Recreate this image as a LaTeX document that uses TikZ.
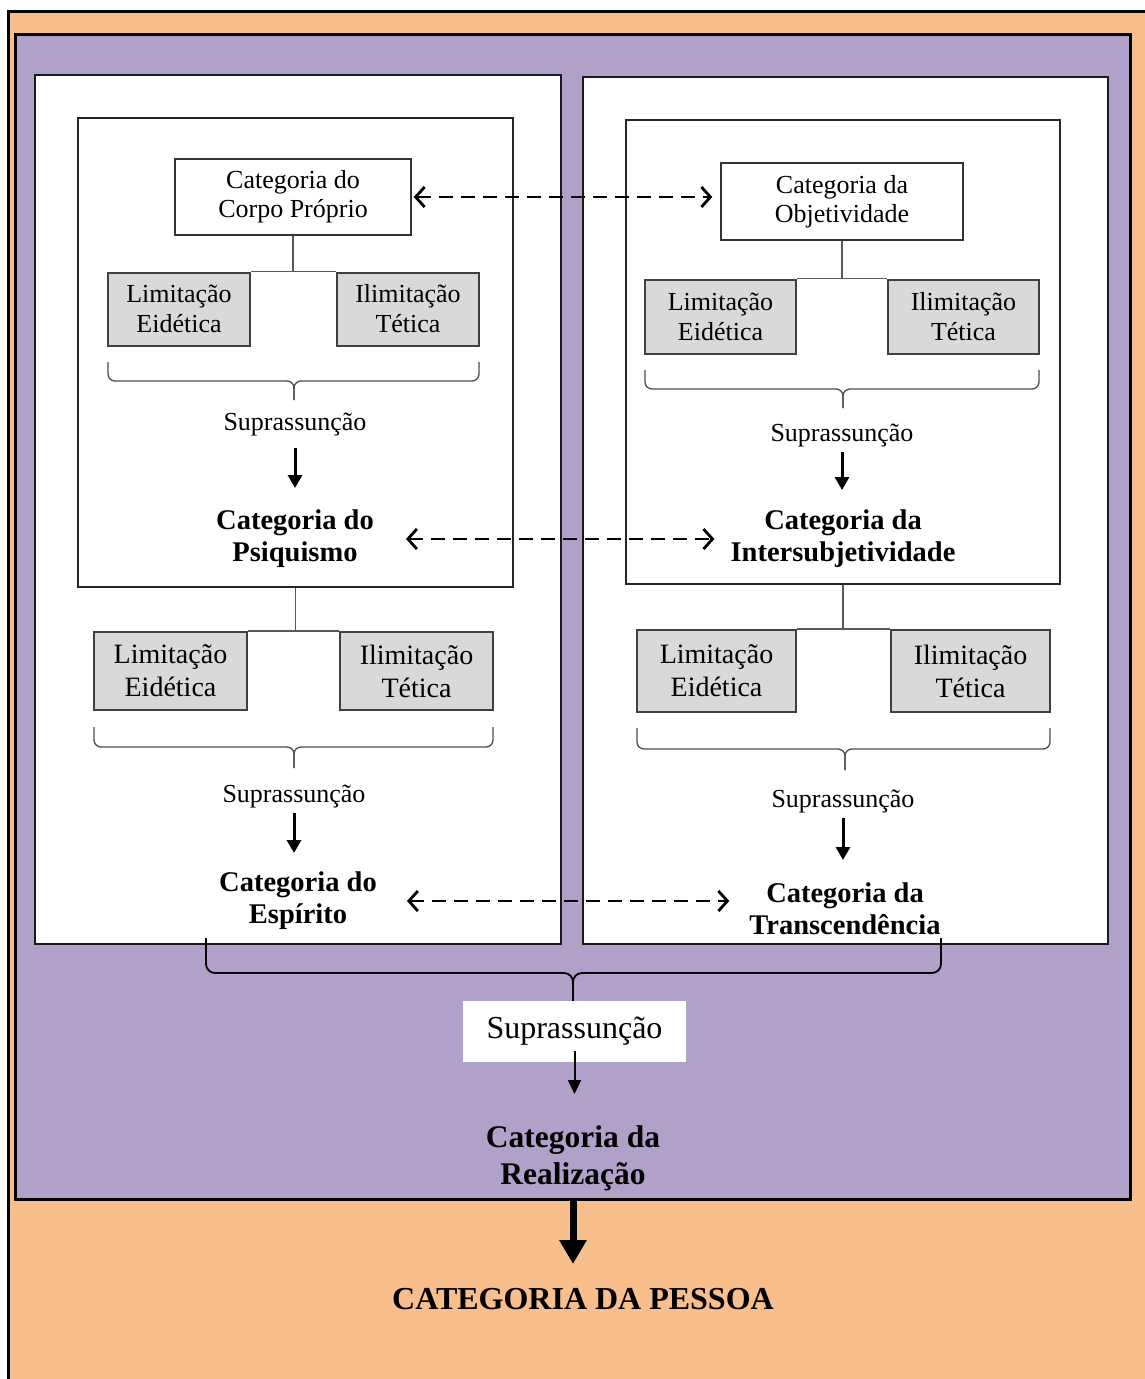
\documentclass[tikz,border=0pt]{standalone}
\usepackage{fontspec}
\setmainfont{Liberation Serif}
\usetikzlibrary{arrows.meta,positioning}
\definecolor{pessoa}{HTML}{F8BF8D}
\definecolor{realiz}{HTML}{B1A1C8}
\definecolor{limite}{HTML}{D9D9D9}
\tikzset{frame/.style={draw=black, line width=3pt}}
\tikzset{panel/.style={draw=black!90, line width=2pt, fill=white}}
\tikzset{inner box/.style={rectangle, draw=black!85, line width=1.5pt, fill=white}}
\tikzset{cat box/.style={rectangle, draw=black!80, line width=1.4pt, fill=white, align=center,
    font=\fontsize{26}{29}\selectfont}}
\tikzset{lim box/.style={rectangle, draw=black!75, line width=2pt, fill=limite, align=center, inner sep=0pt}}
\tikzset{cat node/.style={align=center, inner sep=0pt, font=\bfseries\fontsize{28.5}{32}\selectfont}}
\tikzset{sup node/.style={inner sep=0pt, font=\fontsize{26}{29}\selectfont}}
\tikzset{tree edge/.style={draw=black!65, line width=1.3pt}}
\tikzset{brace edge/.style={draw=black!70, line width=1.3pt, rounded corners=7pt}}
\tikzset{sup edge/.style={draw, line width=3pt, -{Triangle[length=13pt,width=14pt]}}}
\tikzset{link edge/.style={draw, line width=2.8pt, dash pattern=on 14pt off 8pt,
    {Straight Barb[length=9pt,width=20pt]}-{Straight Barb[length=9pt,width=20pt]}}}
% #1 left x, #2 right x, #3 tip x, #4 end y, #5 bar y, #6 tip y
\newcommand{\chave}[7][]{%
  \draw[brace edge,#1] (#2,#5) |- (#4,#6) -- (#4,#7);
  \draw[brace edge,#1] (#3,#5) |- (#4,#6) -- (#4,#7);}

\begin{document}
\begin{tikzpicture}
  [x=1pt, y=-1pt]
  \useasboundingbox (0,0) rectangle (1145,1379);
  \fill[white] (0,0) rectangle (1145,1379);
  \draw[frame, fill=pessoa] (8,11) rectangle (1165,1395);
  \draw[frame, fill=realiz] (15,34) rectangle (1130,1199);
  \draw[panel] (35,75) rectangle (561,944);
  \draw[panel] (583,77) rectangle (1108,944);

  \begin{scope}
    \node [inner box, minimum width=435pt, minimum height=469pt] (psiq box)  at (295.5,352.5) {};
    \node [cat box, minimum width=236pt, minimum height=76pt]     (corpo)     at (293,197) {Categoria do\\Corpo Próprio};
    \node [lim box, minimum width=142pt, minimum height=73pt,
           font=\fontsize{26}{30}\selectfont]                      (corpo lim)  at (179,309) {Limitação\\Eidética};
    \node [lim box, minimum width=142pt, minimum height=73pt,
           font=\fontsize{26}{30}\selectfont]                      (corpo ilim) at (408,309) {Ilimitação\\Tética};
    \node [sup node]                                              (corpo sup) at (295,425) {Suprassunção};
    \node [cat node]                                              (psiq)      at (295,539) {Categoria do\\Psiquismo};
    \node [lim box, minimum width=153pt, minimum height=78pt,
           font=\fontsize{28}{33}\selectfont]                      (psiq lim)   at (170.5,671) {Limitação\\Eidética};
    \node [lim box, minimum width=153pt, minimum height=78pt,
           font=\fontsize{28}{33}\selectfont]                      (psiq ilim)  at (416.5,671) {Ilimitação\\Tética};
    \node [sup node]                                              (psiq sup)  at (294,796) {Suprassunção};
    \node [cat node]                                              (esp)       at (298,901) {Categoria do\\Espírito};

    \draw [tree edge] (corpo.south)        to (corpo.south |- corpo lim.north);
    \draw [tree edge] (corpo lim.north east) to (corpo ilim.north west);
    \draw [tree edge] (psiq box.south)     to (psiq box.south |- psiq lim.north);
    \draw [tree edge] (psiq lim.north east) to (psiq ilim.north west);
    \chave{108}{479}{294}{362}{381}{400}
    \chave{94}{493}{294}{727}{747}{768}
    \draw [sup edge, shorten <=23pt, shorten >=51pt] (corpo sup.center) to (psiq.center);
    \draw [sup edge, shorten <=17pt, shorten >=48pt] (psiq sup.center)  to (psiq sup.center |- esp.center);
  \end{scope}

  \begin{scope}
    \node [inner box, minimum width=434pt, minimum height=464pt] (inter box) at (843,352) {};
    \node [cat box, minimum width=242pt, minimum height=77pt]     (obj)       at (842,201.5) {Categoria da\\Objetividade};
    \node [lim box, minimum width=151pt, minimum height=74pt,
           font=\fontsize{26}{30}\selectfont]                      (obj lim)    at (720.5,316.5) {Limitação\\Eidética};
    \node [lim box, minimum width=151pt, minimum height=74pt,
           font=\fontsize{26}{30}\selectfont]                      (obj ilim)   at (963.5,316.5) {Ilimitação\\Tética};
    \node [sup node]                                              (obj sup)   at (842,436) {Suprassunção};
    \node [cat node]                                              (inter)     at (843,539) {Categoria da\\Intersubjetividade};
    \node [lim box, minimum width=159pt, minimum height=82pt,
           font=\fontsize{28}{33}\selectfont]                      (inter lim)  at (716.5,671) {Limitação\\Eidética};
    \node [lim box, minimum width=159pt, minimum height=82pt,
           font=\fontsize{28}{33}\selectfont]                      (inter ilim) at (970.5,671) {Ilimitação\\Tética};
    \node [sup node]                                              (inter sup) at (843,801) {Suprassunção};
    \node [cat node]                                              (trans)     at (845,909) {Categoria da\\Transcendência};

    \draw [tree edge] (obj.south)          to (obj.south |- obj lim.north);
    \draw [tree edge] (obj lim.north east) to (obj ilim.north west);
    \draw [tree edge] (inter box.south)    to (inter box.south |- inter lim.north);
    \draw [tree edge] (inter lim.north east) to (inter ilim.north west);
    \chave{645}{1039}{843}{370}{389}{408}
    \chave{637}{1050}{845}{728}{749}{770}
    \draw [sup edge, shorten <=16pt, shorten >=49pt] (obj sup.center)   to (obj sup.center |- inter.center);
    \draw [sup edge, shorten <=17pt, shorten >=49pt] (inter sup.center) to (inter sup.center |- trans.center);
  \end{scope}

  % links between the two columns
  \draw [link edge, shorten <=2pt,  shorten >=8pt]  (corpo.east) to (corpo.east -| obj.west);
  \draw [link edge, shorten <=32pt, shorten >=16pt] (psiq.east)  to (psiq.east -| inter.west);
  \draw [link edge, shorten <=30pt, shorten >=20pt] (esp.east)   to (esp.east -| trans.west);

  \chave[draw=black, line width=1.8pt, rounded corners=9pt]{206}{941}{573}{938}{973}{1001}
  \node [fill=white, minimum width=223pt, minimum height=61pt,
         font=\fontsize{32}{35}\selectfont]                        (real sup) at (574.5,1031.5) {Suprassunção};
  \node [cat node, font=\bfseries\fontsize{31.5}{37}\selectfont]   (real)     at (573,1158) {Categoria da\\Realização};
  \node [font=\bfseries\fontsize{32}{36}\selectfont]               (pessoa)   at (583,1299) {CATEGORIA DA PESSOA};

  \draw [line width=2pt, -{Triangle[length=14pt,width=13pt]}, shorten <=19pt, shorten >=64pt]
    (real sup.center) to (real sup.center |- real.center);
  \draw [line width=7pt, -{Triangle[length=24pt,width=26pt]}, shorten <=41pt, shorten >=35pt]
    (real.center) to (real.center |- pessoa.center);
\end{tikzpicture}
\end{document}
